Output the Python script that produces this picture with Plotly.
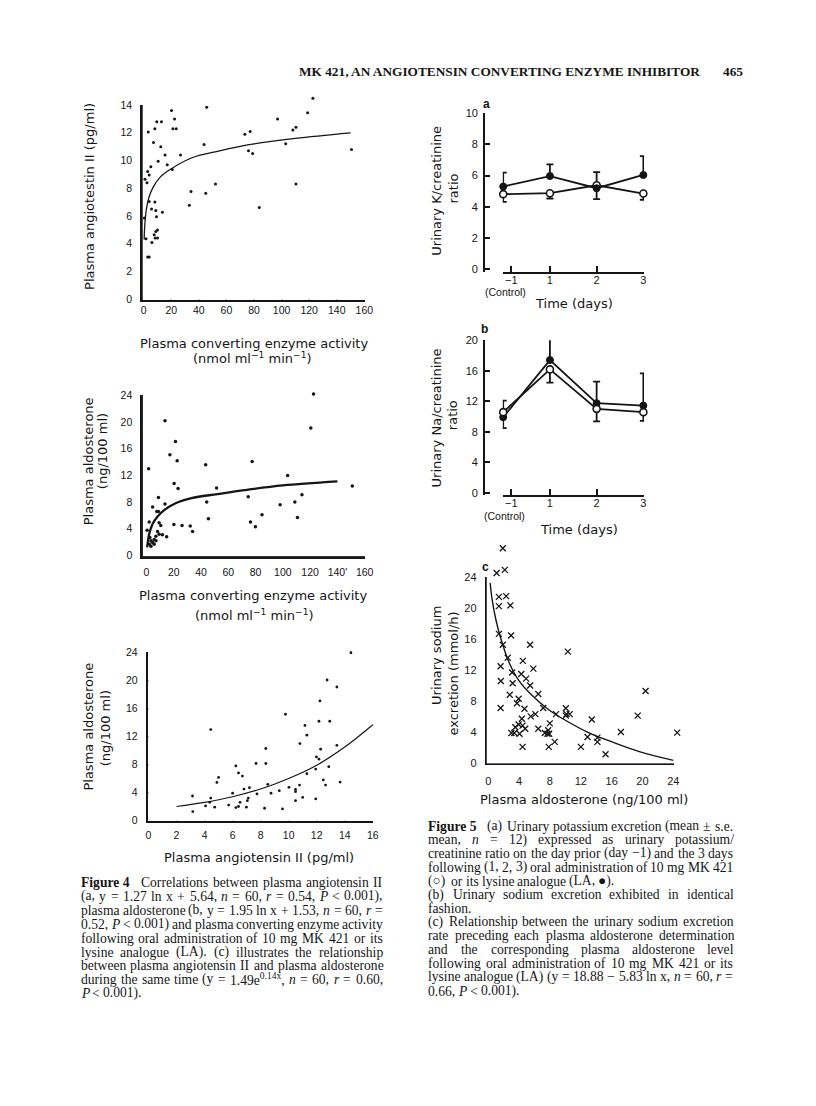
import re
import plotly.graph_objects as go

# ---------------- page geometry helpers ----------------
W, H = 816, 1106
OFF = 8
FW, FH = W - 2 * OFF, H - 2 * OFF
INK = "#151515"
AX = "DejaVu Sans"
TK = "Liberation Sans"
SERIF = "Liberation Serif"


def px(x):
    return (x - OFF) / FW


def py(y):
    return 1 - (y - OFF) / FH


def dom_x(p0, k, r):
    return [px(p0 + k * r[0]), px(p0 + k * r[1])]


def dom_y(p0, k, r):
    return [py(p0 - k * r[0]), py(p0 - k * r[1])]


# ---------------- data: Figure 4a ----------------
ace_a = [45.7, 20.2, 22.4, 21.2, 23.6, 12.9, 9.5, 8.1, 3.3, 7.1, 12.4, 15.5, 26.7, 43.8,
         10.5, 17.1, 20.7, 5.2, 2.9, 4.0, 1.0, 2.4, 52.1, 34.3, 45.0, 33.1, 4.0, 8.1, 5.7,
         8.8, 13.6, 9.3, 0.5, 10.0, 8.8, 7.6, 8.3, 10.0, 1.7, 6.0, 2.9, 4.0, 122.7, 118.9,
         97.1, 108.2, 110.4, 103.0, 110.4, 150.7, 83.8, 73.4, 77.2, 76.0, 79.0]
ang_a = [13.85, 13.6, 13.0, 12.3, 12.3, 12.8, 12.8, 12.3, 12.05, 11.3, 11.0, 10.4, 10.4, 11.15,
         9.95, 9.7, 9.35, 9.55, 9.2, 8.95, 8.64, 8.4, 8.3, 7.76, 7.64, 6.78, 7.04, 7.0, 6.5,
         6.4, 6.27, 5.94, 5.85, 4.99, 4.87, 4.65, 4.4, 4.4, 4.35, 4.08, 3.03, 3.03, 14.5, 13.45,
         13.0, 12.2, 12.4, 11.2, 8.3, 10.8, 6.6, 11.9, 12.1, 10.7, 10.5]
fit_a_x = [0.35, 0.6, 1, 2, 4, 7, 12, 20, 35, 55, 80, 110, 150]
fit_a_y = [4.3, 5.0, 5.6, 6.5, 7.4, 8.1, 8.8, 9.4, 10.2, 10.7, 11.2, 11.6, 12.0]

# ---------------- data: Figure 4b ----------------
ace_b = [13.6, 21.3, 17.2, 22.5, 1.6, 43.4, 20.3, 23.2, 51.4, 8.8, 13.6, 4.5, 7.6, 8.8, 44.2,
         45.4, 2.0, 9.3, 10.5, 20.1, 26.1, 32.1, 33.8, 8.1, 9.3, 11.7, 14.8, 6.9, 5.7, 2.5,
         3.3, 4.5, 2.1, 5.7, 3.3, 7.0, 0.5, 122.5, 120.5, 77.5, 103.5, 150.9, 74.6, 114.0,
         98.0, 108.8, 84.7, 110.7, 76.3, 79.9]
ald_b = [20.2, 17.1, 15.1, 14.2, 13.0, 13.6, 10.8, 10.05, 10.1, 8.7, 7.7, 7.25, 6.6, 6.6, 8.0,
         5.5, 5.0, 4.9, 4.5, 4.65, 4.5, 4.4, 3.6, 3.6, 3.2, 3.1, 2.8, 2.9, 2.4, 2.7,
         2.2, 1.95, 1.7, 1.7, 1.4, 2.2, 3.8, 24.2, 19.1, 14.1, 12.0, 10.4, 8.8, 9.1,
         7.6, 8.0, 6.1, 5.7, 5.0, 4.3]
fit_b_x = [0.5, 1, 2, 4.5, 8, 13, 21, 33, 52, 72, 100, 140]
fit_b_y = [1.2, 2.0, 3.2, 4.7, 5.8, 6.8, 7.8, 8.6, 9.2, 9.8, 10.5, 11.1]

# ---------------- data: Figure 4c ----------------
ang_c = [14.44, 12.74, 13.44, 9.77, 12.23, 12.16, 12.93, 4.44, 11.16, 11.3, 10.8, 13.44, 12.28,
         8.37, 11.98, 12.16, 11.93, 12.86, 6.23, 7.67, 8.37, 6.42, 6.7, 11.3, 5.0, 4.88, 12.47,
         12.63, 13.67, 10.77, 8.51, 10.02, 6.81, 7.2, 10.49, 10.49, 11.0, 9.33, 8.74, 7.74,
         6.0, 3.14, 4.44, 4.37, 7.12, 7.05, 6.53, 4.07, 4.72, 5.72, 6.23, 6.42, 6.98, 8.28,
         9.56, 10.49, 11.93, 3.16]
ald_c = [24.0, 20.1, 19.1, 15.2, 17.1, 14.2, 14.2, 13.0, 13.6, 12.2, 11.0, 10.75, 10.2,
         10.3, 9.1, 8.77, 7.35, 7.7, 7.8, 8.15, 8.15, 6.8, 6.35, 6.7, 6.16, 5.45, 5.8,
         5.07, 5.5, 5.07, 5.17, 4.74, 4.5, 4.7, 4.45, 4.12, 3.3, 4.27, 3.9, 3.8,
         3.9, 3.5, 3.2, 2.6, 3.2, 2.84, 2.6, 2.08, 1.9, 2.2, 1.85, 2.0, 1.9, 1.75,
         1.66, 2.84, 3.08, 1.28]
fit_c_x = [2, 4, 6, 8, 10, 12, 14, 16]
fit_c_y = [2.0, 2.6, 3.4, 4.5, 6.0, 7.9, 10.5, 13.7]

# ---------------- data: Figure 5a / 5b ----------------
day_pos = [0, 1, 2, 3]
day_ticks = [0.175, 1, 2, 3]
day_labels = ["\u22121", "1", "2", "3"]

k_la = [5.30, 5.97, 5.19, 6.04]
k_la_up = [0.89, 0.75, 0.0, 1.21]
k_la_dn = [0.0, 0.0, 0.70, 0.0]
k_mk = [4.81, 4.87, 5.38, 4.85]
k_mk_up = [0.0, 0.0, 0.85, 0.0]
k_mk_dn = [0.49, 0.34, 0.0, 0.40]

na_la = [9.91, 17.39, 11.74, 11.43]
na_la_up = [0.0, 2.91, 2.83, 4.22]
na_la_dn = [1.43, 0.0, 0.0, 0.0]
na_mk = [10.57, 16.17, 11.0, 10.57]
na_mk_up = [1.52, 0.0, 0.0, 0.0]
na_mk_dn = [0.0, 1.74, 1.65, 1.14]

# ---------------- data: Figure 5c ----------------
ald_5c = [1.89, 1.09, 2.15, 1.38, 2.32, 1.38, 2.87, 1.38, 1.89, 2.96, 5.43, 10.32, 2.53, 1.6,
          3.09, 4.49, 5.85, 4.28, 4.91, 1.64, 3.17, 5.43, 6.49, 2.79, 3.94, 3.73, 1.6, 4.7,
          7.13, 5.51, 6.11, 8.79, 10.06, 10.15, 10.57, 10.06, 13.43, 19.38, 20.4, 4.36, 3.94,
          3.51, 4.45, 3.0, 3.38, 4.06, 4.79, 6.49, 7.34, 7.77, 7.98, 7.68, 7.9, 4.45, 7.85,
          8.62, 12.02, 12.87, 14.15, 14.15, 15.21, 17.2, 24.5]
na_5c = [27.8, 24.6, 25.0, 21.5, 21.6, 20.3, 20.4, 16.7, 15.3, 16.5, 15.3, 14.4, 13.6, 12.5,
         11.7, 13.2, 12.2, 11.5, 10.9, 10.6, 10.3, 10.0, 8.9, 8.8, 8.3, 7.7, 7.1, 7.0,
         7.1, 6.0, 6.3, 6.3, 7.05, 6.3, 6.3, 6.1, 5.6, 6.1, 9.3, 5.7, 4.96,
         4.6, 4.8, 3.85, 3.85, 3.76, 4.4, 4.4, 3.85, 4.2, 5.1, 3.76, 3.76, 2.05, 2.05,
         2.7, 2.05, 3.33, 3.25, 2.7, 1.1, 3.97, 3.9]
fit_5c_x = [0.25, 0.5, 1.0, 1.6, 2.7, 4.0, 5.6, 7.8, 10, 13, 16.3, 19.7, 24]
fit_5c_y = [23.3, 21.2, 18.5, 16.2, 13.0, 10.6, 8.8, 6.9, 5.5, 3.9, 2.6, 1.4, 0.3]

# ---------------- axis geometry (pixel of value 0, px per unit, ranges) ----------------
# xr/yr: drawn axis extent; dxr/dyr: wider data ranges (same scale) so marks beyond the axis ends show
G = {
    "4a": dict(x0=142.7, kx=1.40, xr=[-0.7, 160.2], y0=296.0, ky=14.0, yr=[-0.05, 14.0],
               dxr=[-0.7, 165], dyr=[-0.05, 15.5]),
    "4b": dict(x0=145.5, kx=1.385, xr=[-2.6, 160.2], y0=555.0, ky=6.74, yr=[-0.1, 24.05],
               dxr=[-2.6, 165], dyr=[-0.1, 26]),
    "4c": dict(x0=147.6, kx=14.23, xr=[-0.02, 16.02], y0=822.7, ky=7.06, yr=[-0.05, 24.05],
               dxr=[-0.02, 17], dyr=[-0.05, 26]),
    "5a": dict(x0=507.7, kx=47.43, xr=[-0.01, 3.015], y0=265.7, ky=15.74, yr=[-0.17, 10.0]),
    "5b": dict(x0=507.7, kx=47.43, xr=[-0.01, 3.015], y0=491.7, ky=7.71, yr=[-0.3, 20.0]),
    "5c": dict(x0=492.5, kx=7.83, xr=[-0.19, 24.05], y0=764.3, ky=7.79, yr=[-0.09, 24.05],
               dxr=[-0.19, 26], dyr=[-0.09, 29]),
}


def xaxis(g, anchor, tickvals, ticktext=None, lw=2.5, tl=6, tfs=10.5, so=5):
    d = dict(domain=dom_x(g["x0"], g["kx"], g["xr"]), range=g["xr"], anchor=anchor,
             showline=True, linecolor=INK, linewidth=lw, ticks="inside", ticklen=tl,
             tickwidth=2, tickcolor=INK, tickvals=tickvals, showgrid=False, zeroline=False,
             tickfont=dict(family=TK, size=tfs, color=INK), ticklabelstandoff=so,
             fixedrange=True)
    if ticktext is not None:
        d["ticktext"] = ticktext
    return d


def yaxis(g, anchor, tickvals, lw=2.5, tl=5, tfs=10.5, so=5, pos=None):
    d = dict(domain=dom_y(g["y0"], g["ky"], g["yr"]), range=g["yr"], anchor=anchor,
             showline=True, linecolor=INK, linewidth=lw, ticks="inside", ticklen=tl,
             tickwidth=2, tickcolor=INK, tickvals=tickvals, showgrid=False, zeroline=False,
             tickfont=dict(family=TK, size=tfs, color=INK), ticklabelstandoff=so,
             fixedrange=True)
    if pos is not None:
        d["position"] = px(pos)
    return d


def data_axes(g, xa, ya):
    xd = dict(domain=dom_x(g["x0"], g["kx"], g["dxr"]), range=g["dxr"], anchor=ya,
              visible=False, fixedrange=True)
    yd = dict(domain=dom_y(g["y0"], g["ky"], g["dyr"]), range=g["dyr"], anchor=xa,
              visible=False, fixedrange=True)
    return xd, yd


fig = go.Figure()

# empty traces so the drawn (display) axes of 4a, 4b, 4c and 5c are rendered
for xa, ya in [("x", "y"), ("x2", "y2"), ("x3", "y3"), ("x6", "y6")]:
    fig.add_trace(go.Scatter(x=[None], y=[None], mode="markers", xaxis=xa, yaxis=ya,
                             hoverinfo="skip", showlegend=False))


def dot(s):
    return dict(size=s, color=INK)


# Figure 4a (data axes x7/y7)
fig.add_trace(go.Scatter(x=ace_a, y=ang_a, mode="markers", marker=dot(3),
                         xaxis="x7", yaxis="y7", cliponaxis=False))
fig.add_trace(go.Scatter(x=fit_a_x, y=fit_a_y, mode="lines",
                         line=dict(color=INK, width=1.3, shape="spline"),
                         xaxis="x7", yaxis="y7", cliponaxis=False))
# Figure 4b (x8/y8)
fig.add_trace(go.Scatter(x=ace_b, y=ald_b, mode="markers", marker=dot(3.5),
                         xaxis="x8", yaxis="y8", cliponaxis=False))
fig.add_trace(go.Scatter(x=fit_b_x, y=fit_b_y, mode="lines",
                         line=dict(color=INK, width=2.3, shape="spline"),
                         xaxis="x8", yaxis="y8", cliponaxis=False))
# Figure 4c (x9/y9)
fig.add_trace(go.Scatter(x=ang_c, y=ald_c, mode="markers", marker=dot(2.8),
                         xaxis="x9", yaxis="y9", cliponaxis=False))
fig.add_trace(go.Scatter(x=fit_c_x, y=fit_c_y, mode="lines",
                         line=dict(color=INK, width=1.2, shape="spline"),
                         xaxis="x9", yaxis="y9", cliponaxis=False))


def err(up, dn):
    return dict(type="data", symmetric=False, array=up, arrayminus=dn, color=INK,
                thickness=1.8, width=3.5)


filled = dict(symbol="circle", size=7, color=INK, line=dict(color=INK, width=1))
hollow = dict(symbol="circle", size=7, color="white", line=dict(color=INK, width=1.6))

# Figure 5a
fig.add_trace(go.Scatter(x=day_pos, y=k_mk, mode="lines+markers", marker=hollow,
                         line=dict(color=INK, width=1.8), error_y=err(k_mk_up, k_mk_dn),
                         xaxis="x4", yaxis="y4", cliponaxis=False))
fig.add_trace(go.Scatter(x=day_pos, y=k_la, mode="lines+markers", marker=filled,
                         line=dict(color=INK, width=1.8), error_y=err(k_la_up, k_la_dn),
                         xaxis="x4", yaxis="y4", cliponaxis=False))
# Figure 5b
fig.add_trace(go.Scatter(x=day_pos, y=na_la, mode="lines+markers", marker=filled,
                         line=dict(color=INK, width=1.8), error_y=err(na_la_up, na_la_dn),
                         xaxis="x5", yaxis="y5", cliponaxis=False))
fig.add_trace(go.Scatter(x=day_pos, y=na_mk, mode="lines+markers", marker=hollow,
                         line=dict(color=INK, width=1.8), error_y=err(na_mk_up, na_mk_dn),
                         xaxis="x5", yaxis="y5", cliponaxis=False))
# Figure 5c (x10/y10)
fig.add_trace(go.Scatter(x=ald_5c, y=na_5c, mode="markers",
                         marker=dict(symbol="x-thin", size=6, line=dict(color=INK, width=1.3)),
                         xaxis="x10", yaxis="y10", cliponaxis=False))
fig.add_trace(go.Scatter(x=fit_5c_x, y=fit_5c_y, mode="lines",
                         line=dict(color=INK, width=1.4, shape="spline"),
                         xaxis="x10", yaxis="y10", cliponaxis=False))

# ---------------- axes ----------------
x7, y7 = data_axes(G["4a"], "x7", "y7")
x8, y8 = data_axes(G["4b"], "x8", "y8")
x9, y9 = data_axes(G["4c"], "x9", "y9")
x10, y10 = data_axes(G["5c"], "x10", "y10")

layout_axes = dict(
    xaxis=xaxis(G["4a"], "y", list(range(0, 161, 20)), tfs=10.5, so=-1),
    yaxis=yaxis(G["4a"], "x", list(range(0, 15, 2)), tfs=10.5, so=6),
    xaxis2=xaxis(G["4b"], "y2", list(range(0, 161, 20)),
                 ["0", "20", "40", "60", "80", "100", "120", "140'", "160"], tfs=10.5, so=5),
    yaxis2=yaxis(G["4b"], "x2", list(range(0, 25, 4)), tfs=10.5, so=6),
    xaxis3=xaxis(G["4c"], "y3", list(range(0, 17, 2)), tfs=10.5, so=3),
    yaxis3=yaxis(G["4c"], "x3", list(range(0, 25, 4)), tfs=10.5, so=6),
    xaxis4=xaxis(G["5a"], "y4", day_ticks, day_labels, lw=2, tl=6, tfs=11, so=-3),
    yaxis4=yaxis(G["5a"], "free", list(range(0, 11, 2)), lw=2, tl=5, tfs=11, so=3, pos=488.3),
    xaxis5=xaxis(G["5b"], "y5", day_ticks, day_labels, lw=2, tl=6, tfs=11, so=-3),
    yaxis5=yaxis(G["5b"], "free", list(range(0, 21, 4)), lw=2, tl=5, tfs=11, so=3, pos=488.3),
    xaxis6=xaxis(G["5c"], "y6", list(range(0, 25, 4)), lw=2, tl=5, tfs=11, so=6),
    yaxis6=yaxis(G["5c"], "x6", list(range(0, 25, 4)), lw=2, tl=5, tfs=11, so=6),
    xaxis7=x7, yaxis7=y7, xaxis8=x8, yaxis8=y8, xaxis9=x9, yaxis9=y9,
    xaxis10=x10, yaxis10=y10,
)

# ---------------- text ----------------
ann = []


def text(x, y, s, size=13, family=AX, angle=0, xanchor="center", bold=False):
    ann.append(dict(x=px(x), y=py(y), xref="paper", yref="paper",
                    text=(f"<b>{s}</b>" if bold else s),
                    showarrow=False, textangle=angle, xanchor=xanchor, yanchor="middle",
                    borderpad=0, borderwidth=0,
                    font=dict(family=family, size=size, color=INK)))


# header
text(300, 66, "<b>MK 421, AN ANGIOTENSIN CONVERTING ENZYME INHIBITOR</b>", 13.3, SERIF, xanchor="left")
text(731, 66, "<b>465</b>", 13.3, SERIF, xanchor="left")

# Figure 4 axis titles
text(87, 192, "Plasma angiotestin II (pg/ml)", angle=-90)
text(254.5, 341, "Plasma converting enzyme activity")
text(253, 356, "(nmol ml<sup>\u22121</sup> min<sup>\u22121</sup>)")
text(87, 460, "Plasma aldosterone", angle=-90)
text(101, 450, "(ng/100 ml)", angle=-90)
text(254, 595, "Plasma converting enzyme activity")
text(255.7, 615, "(nmol ml<sup>\u22121</sup> min<sup>\u22121</sup>)")
text(87, 728, "Plasma aldosterone", angle=-90)
text(104, 730, "(ng/100 ml)", angle=-90)
text(260, 860, "Plasma angiotensin II (pg/ml)")

# Figure 5 axis titles
text(440, 187, "Urinary K/creatinine", angle=-90)
text(457, 184, "ratio", angle=-90)
text(510, 288.5, "(Control)", 10.5, TK)
text(580, 300, "Time (days)")
text(491, 99, "a", 12, TK, bold=True)

text(440, 416, "Urinary Na/creatinine", angle=-90)
text(457, 413, "ratio", angle=-90)
text(509, 515, "(Control)", 10.5, TK)
text(585, 529, "Time (days)")
text(489, 326.7, "b", 12, TK, bold=True)

text(440, 656, "Urinary sodium", angle=-90)
text(457, 674, "excretion (mmol/h)", angle=-90)
text(590, 801.7, "Plasma aldosterone (ng/100 ml)")
text(490, 566.7, "c", 12, TK, bold=True)

# ---------------- captions (justified with Times metrics) ----------------
TIMES = {" ": 250, "\u00a0": 250, "(": 333, ")": 333, "+": 564, ",": 250, "-": 333, ".": 250,
         "/": 278, ":": 278, ";": 278, "<": 564, "=": 564, ">": 564, "\u00b1": 564,
         "\u2212": 564, "\u25cb": 800, "\u25cf": 800,
         "A": 722, "B": 667, "C": 667, "D": 722, "E": 611, "F": 556, "G": 722, "H": 722,
         "I": 333, "J": 389, "K": 722, "L": 611, "M": 889, "N": 722, "O": 722, "P": 556,
         "R": 667, "S": 556, "T": 611, "U": 722, "V": 722, "W": 944, "X": 722, "Y": 722,
         "a": 444, "b": 500, "c": 444, "d": 500, "e": 444, "f": 333, "g": 500, "h": 500,
         "i": 278, "j": 278, "k": 500, "l": 278, "m": 778, "n": 500, "o": 500, "p": 500,
         "q": 500, "r": 333, "s": 389, "t": 278, "u": 500, "v": 500, "w": 722, "x": 500,
         "y": 500, "z": 444}
ITAL = {"n": 500, "r": 389, "P": 611}
BOLD = {"F": 611, "u": 556, "r": 444}


def word_width(s, size):
    s = s.replace("&lt;", "<")
    w = 0.0
    bold = ital = sup = False
    for part in re.split(r"(</?(?:b|i|sup)>)", s):
        if part in ("<b>", "</b>", "<i>", "</i>", "<sup>", "</sup>"):
            tag = part.strip("<>/")
            on = not part.startswith("</")
            if tag == "b":
                bold = on
            elif tag == "i":
                ital = on
            else:
                sup = on
            continue
        for ch in part:
            cw = TIMES.get(ch, 500)
            if ital and ch in ITAL:
                cw = ITAL[ch]
            if bold and ch in BOLD:
                cw = BOLD[ch]
            w += cw * (0.7 if sup else 1.0)
    return w * size / 1000.0


def caption(lines, ys, left, right, size):
    for (s, justify), yy in zip(lines, ys):
        words = s.split(" ")
        widths = [word_width(wd, size) for wd in words]
        if justify and len(words) > 1:
            gap = (right - left - sum(widths)) / (len(words) - 1)
        else:
            gap = 250 * size / 1000.0
        x = left
        for wd, wdw in zip(words, widths):
            text(x, yy, wd, size, SERIF, xanchor="left")
            x += wdw + gap


CAP = 13.6
cap4 = [
    ("<b>Figure\u00a04</b>\u00a0\u00a0 Correlations between plasma angiotensin II", True),
    ("(a, y = 1.27 ln x + 5.64, <i>n</i> = 60, <i>r</i> = 0.54, <i>P</i> &lt; 0.001),", True),
    ("plasma aldosterone (b, y = 1.95 ln x + 1.53, <i>n</i> = 60, <i>r</i> =", True),
    ("0.52, <i>P</i> &lt; 0.001) and plasma converting enzyme activity", True),
    ("following oral administration of 10 mg MK 421 or its", True),
    ("lysine analogue (LA). (c) illustrates the relationship", True),
    ("between plasma angiotensin II and plasma aldosterone", True),
    ("during the same time (y = 1.49e<sup>0.14x</sup>, <i>n</i> = 60, <i>r</i> = 0.60,", True),
    ("<i>P</i> &lt; 0.001).", False),
]
cap4_y = [885, 899.3, 913.3, 927.3, 941.7, 955.7, 969.3, 983.3, 997.3]
caption(cap4, cap4_y, 79, 385, CAP)

cap5 = [
    ("<b>Figure\u00a05</b>\u00a0\u00a0 (a) Urinary potassium excretion (mean \u00b1 s.e.", True),
    ("mean, <i>n</i> = 12) expressed as urinary potassium/", True),
    ("creatinine ratio on the day prior (day \u22121) and the 3 days", True),
    ("following (1, 2, 3) oral administration of 10 mg MK 421", True),
    ("(\u25cb) or its lysine analogue (LA, \u25cf).", False),
    ("(b) Urinary sodium excretion exhibited in identical", True),
    ("fashion.", False),
    ("(c) Relationship between the urinary sodium excretion", True),
    ("rate preceding each plasma aldosterone determination", True),
    ("and the corresponding plasma aldosterone level", True),
    ("following oral administration of 10 mg MK 421 or its", True),
    ("lysine analogue (LA) (y = 18.88 \u2212 5.83 ln x, <i>n</i> = 60, <i>r</i> =", True),
    ("0.66, <i>P</i> &lt; 0.001).", False),
]
cap5_y = [828.3, 842.3, 856, 870, 884, 897.7, 911.7, 925, 939, 952.7, 966.7, 980.7, 995]
caption(cap5, cap5_y, 431.7, 741, CAP)

fig.update_layout(
    width=FW, height=FH, margin=dict(l=0, r=0, t=0, b=0, pad=0),
    paper_bgcolor="white", plot_bgcolor="white", showlegend=False,
    annotations=ann, **layout_axes,
)

fig.write_html("out.html", config={"displayModeBar": False, "staticPlot": True})
